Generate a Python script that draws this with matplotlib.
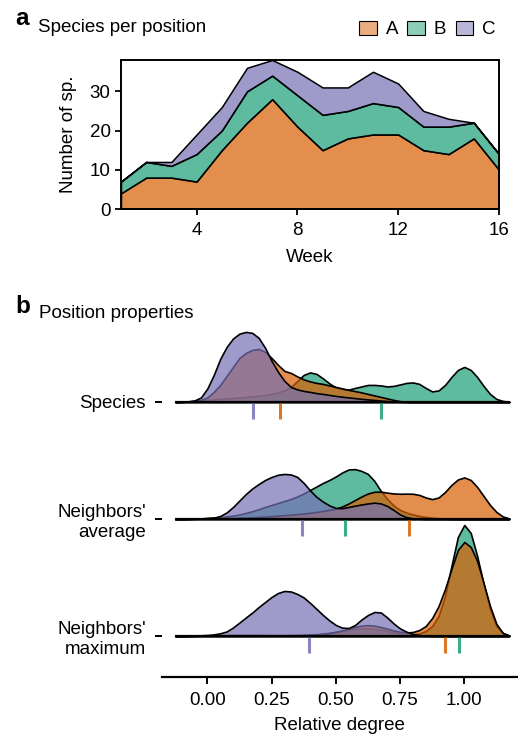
import numpy as np
import matplotlib
matplotlib.use('Agg')
import matplotlib.pyplot as plt
from matplotlib.colors import to_rgba
from matplotlib.patches import Patch

plt.rcParams['font.family'] = ['Liberation Sans', 'DejaVu Sans']
plt.rcParams['font.size'] = 13.5

# ---- panel a: species per position, stacked by week ----
weeks = np.arange(1, 17)
sp_A = [4, 8, 8, 7, 15, 22, 28, 21, 15, 18, 19, 19, 15, 14, 18, 10]
sp_B = [3, 4, 3, 7, 5, 8, 6, 8, 9, 7, 8, 7, 6, 7, 4, 4]
sp_C = [0, 0, 1, 5, 6, 6, 4, 6, 7, 6, 8, 6, 4, 2, 0, 0]

# ---- panel b: density ridges of relative degree ----
# heights (px, one row = 117 px)
rel_x = np.round(np.arange(-0.125, 1.1751, 0.025), 3)

species_C = [0, 0.2, 0.6, 1.5, 4.5, 13.5, 27, 43, 55, 63.5,
             68.3, 70, 69, 64, 54, 41, 30, 21, 15, 12.5,
             11, 10, 8.8, 8, 7, 6, 5.2, 4.5, 3.8, 3.1,
             2.5, 2, 1.4, 0.9, 0.5, 0.2, 0, 0, 0, 0,
             0, 0, 0, 0, 0, 0, 0, 0, 0, 0, 0, 0, 0]
species_A = [0, 0, 0.3, 0.8, 2, 4.5, 10, 17, 26, 35,
             44, 49, 52, 53, 50, 44, 37, 31, 29, 25.5,
             22.5, 20.5, 19, 18, 16.5, 15, 13.5, 12, 10.8, 9.5,
             8, 6.5, 5, 3.5, 2, 0.8, 0.2, 0, 0, 0,
             0, 0, 0, 0, 0, 0, 0, 0, 0, 0, 0, 0, 0]
species_B = [0, 0.2, 0.5, 1, 1.5, 2, 2.5, 3, 3.5, 4,
             4.5, 5, 5.5, 6.2, 7, 8, 9.5, 11.5, 15, 21,
             27, 29.5, 28, 23.5, 18.5, 14.5, 13, 12.3, 14, 15.5,
             17, 17, 16.5, 15.5, 16, 17.5, 19, 19.5, 18, 14,
             10.5, 11.5, 17, 25, 32, 35, 32, 25, 16, 8,
             3, 1, 0]

avg_C = [0, 0.1, 0.2, 0.3, 0.5, 0.8, 1.3, 3, 6.5, 12,
         18.5, 25, 30.5, 35, 39, 42, 44.2, 45, 44.5, 42,
         36, 28.5, 22, 17.3, 13.5, 11, 10.8, 12, 13.3, 14.5,
         15.5, 16.3, 15.5, 13, 9, 4.5, 1.8, 0.6, 0.2, 0,
         0, 0, 0, 0, 0, 0, 0, 0, 0, 0, 0, 0, 0]
avg_A = [0, 0, 0.1, 0.2, 0.3, 0.5, 0.6, 0.8, 0.9, 1,
         1.2, 1.4, 1.7, 2, 2.4, 2.8, 3.3, 3.8, 4.3, 4.9,
         5.5, 6.2, 7, 8, 9.2, 10.5, 12.5, 15.5, 19, 22.5,
         25.5, 27.2, 27.3, 26.3, 25.5, 25.2, 25.3, 25.2, 24, 21.5,
         19.8, 21.5, 27, 34, 39.5, 41.5, 39, 32, 23, 14,
         7, 2.5, 0.5]
avg_B = [0, 0, 0.1, 0.3, 0.6, 1, 1.3, 1.8, 2.5, 3.3,
         4.5, 6, 7.8, 9.8, 12, 14, 16, 18, 20, 22.5,
         25.5, 29, 32.5, 36, 39, 42.5, 46.5, 49.5, 49.8, 48,
         45, 38, 28, 20, 13.5, 9, 6.3, 4.5, 3, 2,
         1.3, 0.7, 0.3, 0.1, 0, 0, 0, 0, 0, 0, 0, 0, 0]

max_C = [0, 0.1, 0.2, 0.4, 0.7, 1, 1.6, 2.7, 4.5, 8.5,
         13.5, 18.5, 23.5, 29, 34, 39, 43, 45, 44.5, 42,
         38.5, 33, 27, 21, 15.5, 11, 8.3, 8, 11, 16.5,
         21, 24, 23.5, 18.5, 12.5, 7.5, 4.3, 2, 0.8, 0.3,
         0.1, 0, 0, 0, 0, 0, 0, 0, 0, 0, 0, 0, 0]
max_A = [0, 0, 0.1, 0.2, 0.3, 0.5, 0.6, 0.8, 0.9, 1,
         1, 1, 1, 1, 0.9, 0.8, 0.8, 0.8, 0.8, 0.9,
         1, 1.2, 1.5, 2, 2.8, 4, 5.5, 7.3, 9, 10.3,
         10.8, 10.3, 9, 7.3, 5.5, 4.2, 3.5, 4, 6, 10,
         18, 30, 47, 67, 86, 94, 89, 75, 53, 30,
         12, 3, 0.5]
max_B = [0, 0, 0.1, 0.2, 0.3, 0.4, 0.5, 0.5, 0.6, 0.6,
         0.6, 0.6, 0.6, 0.6, 0.6, 0.6, 0.6, 0.7, 0.8, 0.9,
         1.1, 1.4, 1.8, 2.4, 3.2, 4.2, 5.2, 6.2, 7, 7.5,
         7.6, 7.2, 6.3, 5, 3.6, 2.4, 1.7, 1.6, 2.5, 5,
         10, 20, 40, 70, 99, 111, 103, 80, 52, 27,
         10, 3, 0.5]

# group means (species, average, maximum)
mean_A = [0.282, 0.783, 0.926]
mean_B = [0.674, 0.537, 0.980]
mean_C = [0.176, 0.367, 0.395]

row_names = ['Species', "Neighbors'\naverage", "Neighbors'\nmaximum"]
row_pos = [2, 1, 0]
px_per_row = 117.0

colors = {'A': '#D95F02', 'B': '#1B9E77', 'C': '#7570B3'}

ridges = [
    {'A': species_A, 'B': species_B, 'C': species_C},
    {'A': avg_A, 'B': avg_B, 'C': avg_C},
    {'A': max_A, 'B': max_B, 'C': max_C},
]
means = {'A': mean_A, 'B': mean_B, 'C': mean_C}

fig = plt.figure(figsize=(5.18, 7.35), dpi=100)

# ---------------- panel a ----------------
ax1 = fig.add_axes([0.2336, 0.7156, 0.7297, 0.2028])
ax1.stackplot(weeks, sp_A, sp_B, sp_C,
              colors=[to_rgba(colors[g], 0.7) for g in 'ABC'],
              edgecolor='black', linewidth=1.1)
ax1.set_xlim(1, 16)
ax1.set_ylim(0, 38)
ax1.set_xticks([4, 8, 12, 16])
ax1.set_yticks([0, 10, 20, 30])
for s in ax1.spines.values():
    s.set_linewidth(1.4)
ax1.tick_params(axis='x', length=4.5, width=1.3, pad=5)
ax1.tick_params(axis='y', length=4.5, width=1.3, pad=3)
ax1.set_xlabel('Week', labelpad=7)
ax1.set_ylabel('Number of sp.', labelpad=9)

handles = [Patch(facecolor=to_rgba(colors[g], 0.5), edgecolor='black', lw=0.8)
           for g in 'ABC']
fig.legend(handles, ['A', 'B', 'C'], loc='center', bbox_to_anchor=(0.825, 0.96),
           ncol=3, frameon=False, handlelength=0.95, handleheight=0.8,
           handletextpad=0.45, columnspacing=0.5, borderpad=0, fontsize=13.5)

fig.text(15 / 518, 1 - 25 / 735, 'a', fontsize=17.5, fontweight='bold', va='baseline')
fig.text(38 / 518, 1 - 32 / 735, 'Species per position', fontsize=13.5, va='baseline')

# ---------------- panel b ----------------
ax2 = fig.add_axes([0.312, 0.0793, 0.688, 0.4853])
z = 2
for r, base in enumerate(row_pos):
    for g in ['B', 'A', 'C']:
        h = np.array(ridges[r][g]) / px_per_row
        ax2.fill_between(rel_x, base, base + h,
                         facecolor=to_rgba(colors[g], 0.7),
                         edgecolor='black', linewidth=1.2, zorder=z)
        z += 1
    ax2.plot([rel_x[0], rel_x[-1]], [base, base], color='black', lw=1.6,
             solid_capstyle='butt', zorder=z)
    z += 1
    for g in ['C', 'A', 'B']:
        m = means[g][r]
        ax2.plot([m, m], [base - 0.012, base - 0.148], color=colors[g],
                 alpha=0.85, lw=2.2, solid_capstyle='butt', zorder=z)
    z += 1

ax2.set_xlim(-0.178, 1.209)
ax2.set_ylim(-0.348, 2.70)
ax2.set_xticks([0, 0.25, 0.5, 0.75, 1.0])
ax2.set_xticklabels(['0.00', '0.25', '0.50', '0.75', '1.00'])
ax2.set_yticks(row_pos)
ax2.set_yticklabels(row_names)
for side in ['left', 'top', 'right']:
    ax2.spines[side].set_visible(False)
ax2.spines['bottom'].set_linewidth(1.6)
ax2.tick_params(axis='x', length=4.8, width=1.4, pad=6)
ax2.tick_params(axis='y', length=4.8, width=1.4, pad=6.5)
ax2.set_xlabel('Relative degree', labelpad=6)

fig.text(15 / 518, 1 - 313 / 735, 'b', fontsize=17.5, fontweight='bold', va='baseline')
fig.text(39 / 518, 1 - 318 / 735, 'Position properties', fontsize=13.5, va='baseline')

fig.savefig('out.png', dpi=100)
